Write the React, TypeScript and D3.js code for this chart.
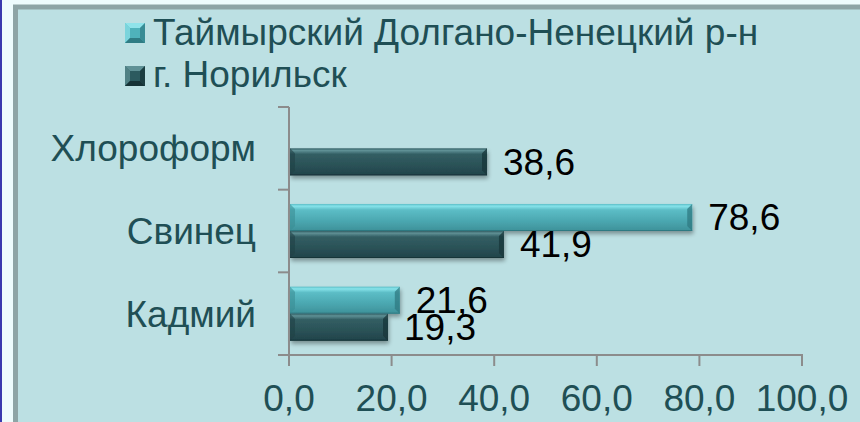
import React from "react";
import * as d3 from "d3";

const categories = ["Хлороформ", "Свинец", "Кадмий"];
const seriesNames = ["Таймырский Долгано-Ненецкий р-н", "г. Норильск"];
const taimyrValues: (number | null)[] = [null, 78.6, 21.6];
const norilskValues: (number | null)[] = [38.6, 41.9, 19.3];
const xTicks = [0, 20, 40, 60, 80, 100];

const W = 860;
const H = 422;
const FONT = "'Liberation Sans', Arial, sans-serif";
const FS = 37;

const fmt = (v: number) => v.toFixed(1).replace(".", ",");

const palette = [
  { id: "gCyan", stops: ["#86e3ea", "#5cbdc6", "#4aa6af", "#3e9199"], edgeL: "#3a8d95", edgeR: "#2f7a82", top: "#8ce6ed", legendTop: "#8fe3ea", legendMid: "#4fb2bb", legendBot: "#2f7c84" },
  { id: "gDark", stops: ["#5f9095", "#325e63", "#2a5156", "#21434a"], edgeL: "#1f4146", edgeR: "#183539", top: "#5d8e93", legendTop: "#5f9196", legendMid: "#2c5a5f", legendBot: "#163236" },
];

export default function App() {
  const x = d3.scaleLinear().domain([0, 100]).range([289, 802]);
  const y = d3.scaleBand<string>().domain(categories).range([107, 355]);
  const sub = d3
    .scaleBand<number>()
    .domain([0, 1])
    .range([0, y.bandwidth()])
    .paddingInner(0)
    .paddingOuter(0.53);
  const seriesVals = [taimyrValues, norilskValues];
  const bh = sub.bandwidth();
  const b = 5;

  const bars: React.ReactNode[] = [];
  const labels: React.ReactNode[] = [];
  seriesVals.forEach((vals, si) => {
    const p = palette[si];
    vals.forEach((v, ci) => {
      if (v == null) return;
      const y0 = (y(categories[ci]) as number) + (sub(si) as number);
      const x0 = x(0) + 1;
      const x1 = x(v);
      bars.push(
        <g key={`b${si}-${ci}`} filter="url(#shadow)">
          <rect x={x0} y={y0} width={x1 - x0} height={bh} fill={`url(#${p.id})`} />
          <polygon
            points={`${x0},${y0} ${x0 + b},${y0 + b} ${x0 + b},${y0 + bh - b} ${x0},${y0 + bh}`}
            fill={p.edgeL}
            opacity={0.6}
          />
          <polygon
            points={`${x1},${y0} ${x1},${y0 + bh} ${x1 - b},${y0 + bh - b} ${x1 - b},${y0 + b}`}
            fill={p.edgeR}
            opacity={0.75}
          />
          <line x1={x0} x2={x1} y1={y0 + bh - 0.5} y2={y0 + bh - 0.5} stroke={p.edgeR} strokeWidth={1} />
        </g>
      );
      labels.push(
        <text
          key={`l${si}-${ci}`}
          x={x1 + 16}
          y={y0 + bh / 2}
          dy="0.35em"
          fontSize={FS}
          fontFamily={FONT}
          fill="#000"
        >
          {fmt(v)}
        </text>
      );
    });
  });

  const legendSquare = (px: number, py: number, p: (typeof palette)[number]) => {
    const s = 20;
    const e = 5;
    return (
      <g>
        <rect x={px} y={py} width={s} height={s} fill={p.legendMid} />
        <polygon points={`${px},${py} ${px + s},${py} ${px + s - e},${py + e} ${px + e},${py + e}`} fill={p.legendTop} />
        <polygon points={`${px},${py} ${px + e},${py + e} ${px + e},${py + s - e} ${px},${py + s}`} fill={p.legendTop} opacity={0.7} />
        <polygon points={`${px + s},${py} ${px + s},${py + s} ${px + s - e},${py + s - e} ${px + s - e},${py + e}`} fill={p.legendBot} opacity={0.7} />
        <polygon points={`${px},${py + s} ${px + s},${py + s} ${px + s - e},${py + s - e} ${px + e},${py + s - e}`} fill={p.legendBot} />
      </g>
    );
  };

  const axisColor = "#8c8c8c";
  const textColor = "#1f4f55";

  return (
    <div style={{ position: "absolute", left: 0, top: 0, width: W, height: H }}>
      <svg width={W} height={H} style={{ display: "block" }}>
        <defs>
          {palette.map((p) => (
            <linearGradient key={p.id} id={p.id} x1="0" y1="0" x2="0" y2="1">
              <stop offset="0%" stopColor={p.stops[1]} />
              <stop offset="8%" stopColor={p.stops[0]} />
              <stop offset="22%" stopColor={p.stops[1]} />
              <stop offset="65%" stopColor={p.stops[2]} />
              <stop offset="100%" stopColor={p.stops[3]} />
            </linearGradient>
          ))}
          <filter id="shadow" x="-5%" y="-30%" width="115%" height="170%">
            <feGaussianBlur in="SourceAlpha" stdDeviation="2" />
            <feOffset dx="1" dy="3" result="ob" />
            <feComponentTransfer>
              <feFuncA type="linear" slope="0.35" />
            </feComponentTransfer>
            <feMerge>
              <feMergeNode />
              <feMergeNode in="SourceGraphic" />
            </feMerge>
          </filter>
        </defs>
        <rect x={0} y={0} width={W} height={H} fill="#eefcfd" />
        <rect x={0} y={0} width={2} height={H} fill="#3a3aae" />
        <rect x={15.5} y={7} width={W} height={H - 4.5} fill="#bce0e3" stroke="#8ea5a6" strokeWidth={5} />

        {/* legend */}
        {seriesNames.map((name, i) => (
          <g key={name}>
            {legendSquare(125, i === 0 ? 23 : 66, palette[i])}
            <text x={153} y={i === 0 ? 45 : 87} fontSize={FS} fontFamily={FONT} fill={textColor}>
              {name}
            </text>
          </g>
        ))}

        {bars}

        {/* y axis */}
        <line x1={289} x2={289} y1={107} y2={355} stroke={axisColor} strokeWidth={2} />
        {[...categories.map((c) => y(c) as number), 355].map((t, i) => (
          <line key={`yt${i}`} x1={278} x2={289} y1={t} y2={t} stroke={axisColor} strokeWidth={2} />
        ))}
        {categories.map((c) => (
          <text
            key={c}
            x={256}
            y={(y(c) as number) + y.bandwidth() / 2}
            dy="0.35em"
            textAnchor="end"
            fontSize={FS}
            fontFamily={FONT}
            fill={textColor}
          >
            {c}
          </text>
        ))}

        {/* x axis */}
        <line x1={288} x2={803} y1={355} y2={355} stroke={axisColor} strokeWidth={2} />
        {xTicks.map((t) => (
          <g key={t}>
            <line x1={x(t)} x2={x(t)} y1={355} y2={366} stroke={axisColor} strokeWidth={2} />
            <text x={x(t)} y={411} textAnchor="middle" fontSize={FS} fontFamily={FONT} fill={textColor}>
              {fmt(t)}
            </text>
          </g>
        ))}

        {labels}
      </svg>
    </div>
  );
}
